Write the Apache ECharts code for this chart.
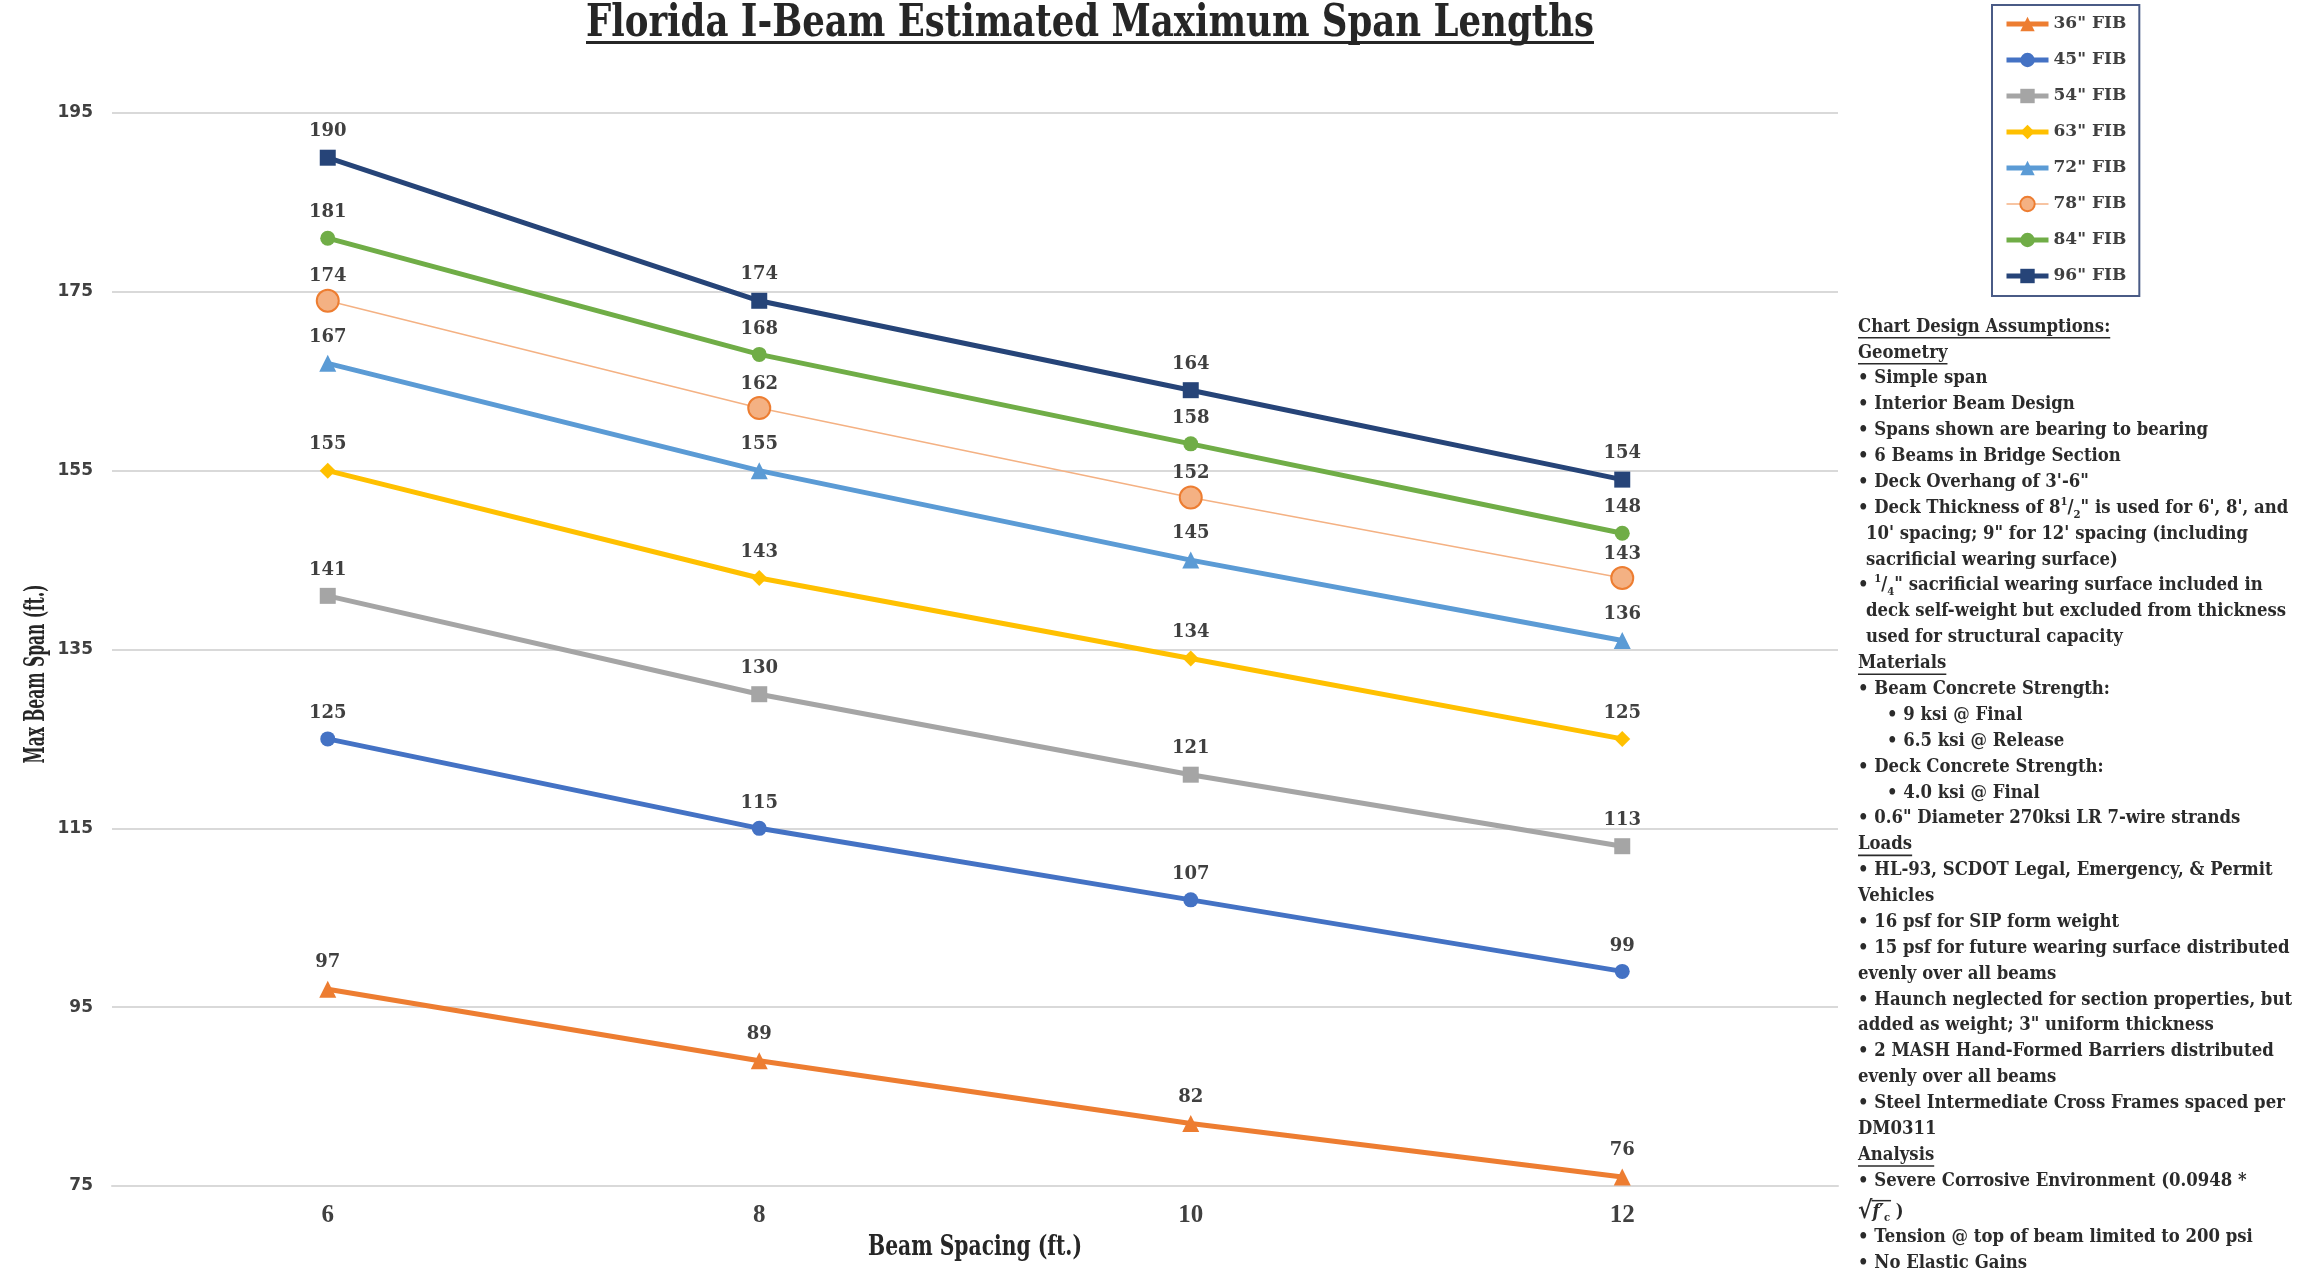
<!DOCTYPE html>
<html>
<head>
<meta charset="utf-8">
<script src="https://cdn.jsdelivr.net/npm/echarts@6/dist/echarts.min.js"></script>
<style>
html,body{margin:0;padding:0;background:#ffffff;}
#chart{width:2299px;height:1273px;}
</style>
</head>
<body>
<div id="chart"></div>
<script>
// ---------- data ----------
const categories = ['6', '8', '10', '12'];
const seriesNames = ['36" FIB', '45" FIB', '54" FIB', '63" FIB', '72" FIB', '78" FIB', '84" FIB', '96" FIB'];
const fib36 = [97, 89, 82, 76];
const fib45 = [125, 115, 107, 99];
const fib54 = [141, 130, 121, 113];
const fib63 = [155, 143, 134, 125];
const fib72 = [167, 155, 145, 136];
const fib78 = [174, 162, 152, 143];
const fib84 = [181, 168, 158, 148];
const fib96 = [190, 174, 164, 154];
const yMin = 75, yMax = 195, yStep = 20;

const titleText = 'Florida I-Beam Estimated Maximum Span Lengths';
const xName = 'Beam Spacing (ft.)';
const yName = 'Max Beam Span (ft.)';

// notes: [kind, text]  h=header, b=bullet, c=continuation(indented), c0=continuation, s=sub-bullet, rb/r0=rich
const notes = [
  ['h', 'Chart Design Assumptions:'],
  ['h', 'Geometry'],
  ['b', '• Simple span'],
  ['b', '• Interior Beam Design'],
  ['b', '• Spans shown are bearing to bearing'],
  ['b', '• 6 Beams in Bridge Section'],
  ['b', '• Deck Overhang of 3\'-6"'],
  ['rb', '{n|• Deck Thickness of 8}{sup|1}{n|/}{sub|2}{n|" is used for 6\', 8\', and}'],
  ['c', '10\' spacing; 9" for 12\' spacing (including'],
  ['c', 'sacrificial wearing surface)'],
  ['rb', '{n|• }{sup|1}{n|/}{sub|4}{n|" sacrificial wearing surface included in}'],
  ['c', 'deck self-weight but excluded from thickness'],
  ['c', 'used for structural capacity'],
  ['h', 'Materials'],
  ['b', '• Beam Concrete Strength:'],
  ['s', '• 9 ksi @ Final'],
  ['s', '• 6.5 ksi @ Release'],
  ['b', '• Deck Concrete Strength:'],
  ['s', '• 4.0 ksi @ Final'],
  ['b', '• 0.6" Diameter 270ksi LR 7-wire strands'],
  ['h', 'Loads'],
  ['b', '• HL-93, SCDOT Legal, Emergency, & Permit'],
  ['c0', 'Vehicles'],
  ['b', '• 16 psf for SIP form weight'],
  ['b', '• 15 psf for future wearing surface distributed'],
  ['c0', 'evenly over all beams'],
  ['b', '• Haunch neglected for section properties, but'],
  ['c0', 'added as weight; 3" uniform thickness'],
  ['b', '• 2 MASH Hand-Formed Barriers distributed'],
  ['c0', 'evenly over all beams'],
  ['b', '• Steel Intermediate Cross Frames spaced per'],
  ['c0', 'DM0311'],
  ['h', 'Analysis'],
  ['b', '• Severe Corrosive Environment (0.0948 *'],
  ['r0', '{sq|√}{it|f′}{sub|c}{n| )}'],
  ['b', '• Tension @ top of beam limited to 200 psi'],
  ['b', '• No Elastic Gains']
];

// ---------- styles ----------
const seriesData = [fib36, fib45, fib54, fib63, fib72, fib78, fib84, fib96];
const seriesStyle = [
  {color: '#ED7D31', symbol: 'triangle', size: 17, width: 5},
  {color: '#4472C4', symbol: 'circle', size: 15, width: 5},
  {color: '#A5A5A5', symbol: 'rect', size: 16, width: 5},
  {color: '#FFC000', symbol: 'diamond', size: 16, width: 5},
  {color: '#5B9BD5', symbol: 'triangle', size: 17, width: 5},
  {color: '#F4B183', border: '#ED7D31', symbol: 'circle', size: 22, width: 1.5},
  {color: '#70AD47', symbol: 'circle', size: 15, width: 5},
  {color: '#264478', symbol: 'rect', size: 16, width: 5}
];

const mctx = document.createElement('canvas').getContext('2d');
function tw(text, font) { mctx.font = font; return mctx.measureText(text).width; }

const series = seriesNames.map((name, i) => {
  const st = seriesStyle[i];
  return {
    name: name,
    type: 'line',
    data: seriesData[i],
    symbol: st.symbol,
    symbolSize: st.size,
    showAllSymbol: true,
    lineStyle: {color: st.color, width: st.width},
    itemStyle: {color: st.color, borderColor: st.border || st.color, borderWidth: st.border ? 2 : 0},
    label: {
      show: true, position: 'top',
      distance: st.size > 18 ? 3 : 9,
      fontFamily: 'DejaVu Serif', fontWeight: 'bold', fontSize: 18, color: '#404040'
    },
    emphasis: {disabled: true},
    z: 2 + i
  };
});

const legendData = seriesNames.map((name, i) => ({
  name: name,
  lineStyle: {width: seriesStyle[i].width > 2 ? 5 : 1.5, color: seriesStyle[i].color}
}));

// ---------- graphic texts ----------
const graphics = [];
const hFam = 'DejaVu Serif';
// title
const titleSize = 44;
const titleFont = 'bold ' + titleSize + 'px "' + hFam + '"';
const titleW = 1008;
const titleScale = titleW / tw(titleText, titleFont);
graphics.push({
  type: 'text', x: 1090, y: 25, scaleX: titleScale, z: 10,
  style: {text: titleText, fontFamily: hFam, fontWeight: 'bold', fontSize: titleSize,
    fill: '#262626', align: 'center', verticalAlign: 'middle', textAlign: 'center', textVerticalAlign: 'middle'}
});
graphics.push({type: 'rect', shape: {x: 1090 - titleW / 2, y: 41, width: titleW, height: 3}, style: {fill: '#262626'}, z: 10});

// axis names
const axFont = 'bold 28px "' + hFam + '"';
const xScale = 214 / tw(xName, axFont);
graphics.push({
  type: 'text', x: 975, y: 1248, scaleX: xScale, z: 10,
  style: {text: xName, fontFamily: hFam, fontWeight: 'bold', fontSize: 28,
    fill: '#262626', align: 'center', verticalAlign: 'middle', textAlign: 'center', textVerticalAlign: 'middle'}
});
const yScale = 179 / tw(yName, axFont);
graphics.push({
  type: 'text', x: 37, y: 674, rotation: Math.PI / 2, scaleX: yScale, z: 10,
  style: {text: yName, fontFamily: hFam, fontWeight: 'bold', fontSize: 28,
    fill: '#262626', align: 'center', verticalAlign: 'middle', textAlign: 'center', textVerticalAlign: 'middle'}
});

// notes block
const nFam = 'DejaVu Serif';
const nSize = 18;
const nFont = 'bold ' + nSize + 'px "' + nFam + '"';
const nScale = 350 / tw('• Spans shown are bearing to bearing', nFont);
const nX = 1858, nY0 = 327, nStep = 25.88;
const nCol = '#2b2b2b';
const richStyles = {
  n: {fontFamily: nFam, fontWeight: 'bold', fontSize: nSize, lineHeight: 24, fill: nCol, color: nCol, verticalAlign: 'middle'},
  sup: {fontFamily: nFam, fontWeight: 'bold', fontSize: 11, lineHeight: 13, fill: nCol, color: nCol, verticalAlign: 'top'},
  sub: {fontFamily: nFam, fontWeight: 'bold', fontSize: 11, lineHeight: 13, fill: nCol, color: nCol, verticalAlign: 'bottom'},
  sq: {fontFamily: nFam, fontWeight: 'bold', fontSize: 24, lineHeight: 24, fill: nCol, color: nCol, verticalAlign: 'middle'},
  it: {fontFamily: nFam, fontWeight: 'bold', fontStyle: 'italic', fontSize: nSize, lineHeight: 24, fill: nCol, color: nCol, verticalAlign: 'middle'}
};
notes.forEach((row, i) => {
  const kind = row[0];
  const y = nY0 + i * nStep + (i >= 34 ? 5 : 0);
  let x = nX;
  if (kind === 'c') x = nX + 8;
  if (kind === 's') x = nX + 29;
  const base = {fontFamily: nFam, fontWeight: 'bold', fontSize: nSize, fill: nCol,
    align: 'left', verticalAlign: 'middle', textAlign: 'left', textVerticalAlign: 'middle'};
  if (kind === 'rb' || kind === 'r0') {
    graphics.push({type: 'text', x: x, y: y, scaleX: nScale, z: 10,
      style: Object.assign({}, base, {text: row[1], rich: richStyles})});
    if (kind === 'r0') {
      const sqW = tw('√', 'bold 24px "' + nFam + '"') * nScale;
      const restW = (tw('f′', 'italic bold 18px "' + nFam + '"') + tw('c', 'bold 11px "' + nFam + '"')) * nScale;
      graphics.push({type: 'rect', shape: {x: x + sqW - 1, y: y - 12, width: restW + 2, height: 1.5}, style: {fill: nCol}, z: 10});
    }
  } else {
    graphics.push({type: 'text', x: x, y: y, scaleX: nScale, z: 10,
      style: Object.assign({}, base, {text: row[1]})});
    if (kind === 'h') {
      const w = tw(row[1], nFont) * nScale;
      graphics.push({type: 'rect', shape: {x: x, y: y + 10, width: w, height: 1.6}, style: {fill: nCol}, z: 10});
    }
  }
});

const chart = echarts.init(document.getElementById('chart'), null, {renderer: 'canvas'});
chart.setOption({
  animation: false,
  backgroundColor: '#ffffff',
  grid: {left: 112, right: 461, top: 113, bottom: 87, containLabel: false},
  legend: {
    orient: 'vertical', left: 1992, top: 5,
    padding: [8, 13, 9, 12], itemGap: 14, itemWidth: 42, itemHeight: 18,
    borderColor: '#4A5B86', borderWidth: 2,
    data: legendData,
    textStyle: {fontFamily: 'DejaVu Serif', fontWeight: 'bold', fontSize: 17, color: '#404040', lineHeight: 22}
  },
  xAxis: {
    type: 'category', data: categories, boundaryGap: true,
    axisLine: {lineStyle: {color: '#D9D9D9', width: 2}},
    axisTick: {show: false},
    splitLine: {show: false},
    axisLabel: {margin: 17, fontFamily: 'Liberation Serif', fontWeight: 'bold', fontSize: 25, color: '#404040'}
  },
  yAxis: {
    type: 'value', min: yMin, max: yMax, interval: yStep,
    axisLine: {show: false}, axisTick: {show: false},
    splitLine: {lineStyle: {color: '#D9D9D9', width: 2}},
    axisLabel: {margin: 19, fontFamily: 'DejaVu Sans', fontWeight: 'bold', fontSize: 17, color: '#404040'}
  },
  series: series,
  graphic: {elements: graphics}
});
</script>
</body>
</html>
